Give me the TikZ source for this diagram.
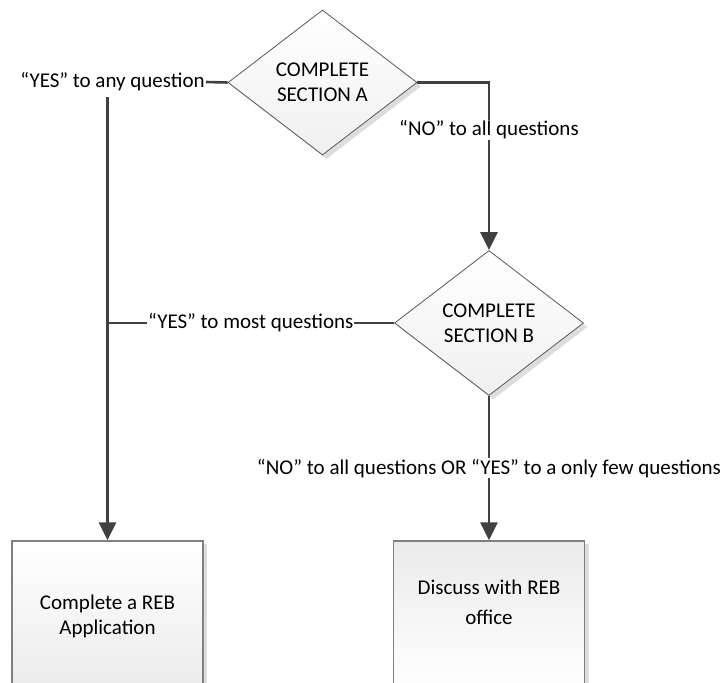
\documentclass[tikz,border=0pt]{standalone}
\usepackage{fontspec}
\setmainfont{Carlito}
\usetikzlibrary{shapes.geometric,arrows.meta,shadows}
\definecolor{conn}{HTML}{404040}
\definecolor{diagc}{HTML}{595959}
\definecolor{boxc}{HTML}{808080}
\definecolor{shadc}{HTML}{DDDDDD}
\begin{document}
\begin{tikzpicture}[x=1pt,y=-1pt,
  font=\fontsize{21}{25}\selectfont,
  decision/.style={diamond, draw=diagc, line width=0.8pt, minimum width=189pt,
    minimum height=145pt, inner sep=0pt, shape aspect=1.3, align=center,
    top color=white, bottom color=black!6,
    drop shadow={shadow xshift=4pt, shadow yshift=-4pt, fill=shadc, opacity=1}},
  procbox/.style={rectangle, draw=boxc, line width=1.3pt, minimum width=191pt,
    minimum height=150pt, inner sep=0pt, align=center,
    drop shadow={shadow xshift=4pt, shadow yshift=-3pt, fill=shadc, opacity=1}},
  conline/.style={draw=conn, line width=2.6pt},
  arr/.style={conline, -{Triangle[length=18pt,width=17pt]}},
  lbl/.style={fill=white, inner sep=1pt, text=black}]
\clip (0,0) rectangle (726,683);
\fill[white] (0,0) rectangle (726,683);

\node[decision] (A) at (322.5,82.5) {COMPLETE\\SECTION A};
\node[decision] (B) at (489,323) {COMPLETE\\SECTION B};
\node[procbox, top color=white, bottom color=black!8] (boxL) at (107.5,616)
  {Complete a REB\\Application};
\node[procbox, top color=black!8, bottom color=white] (boxR) at (489,616)
  {Discuss with REB\\[5pt]office\\[3pt]\mbox{}};

\node[lbl, anchor=east] (ya) at (206,82) {“YES” to any question};
\coordinate (ystart) at (107.5,97);
\draw[conline] (A.west) -- (ya.east);
\draw[arr] (ystart) -- (boxL.north);

\draw[arr] (A.east) -| node[lbl, pos=0.642] (no1) {“NO” to all questions} (B.north);
\draw[conline] (B.west) -- node[lbl, pos=0.5] (ym) {“YES” to most questions} (B.west -| boxL.north);
\draw[arr] (B.south) -- node[lbl, pos=0.5] (no2)
  {“NO” to all questions OR “YES” to a only few questions} (boxR.north);
\end{tikzpicture}
\end{document}
